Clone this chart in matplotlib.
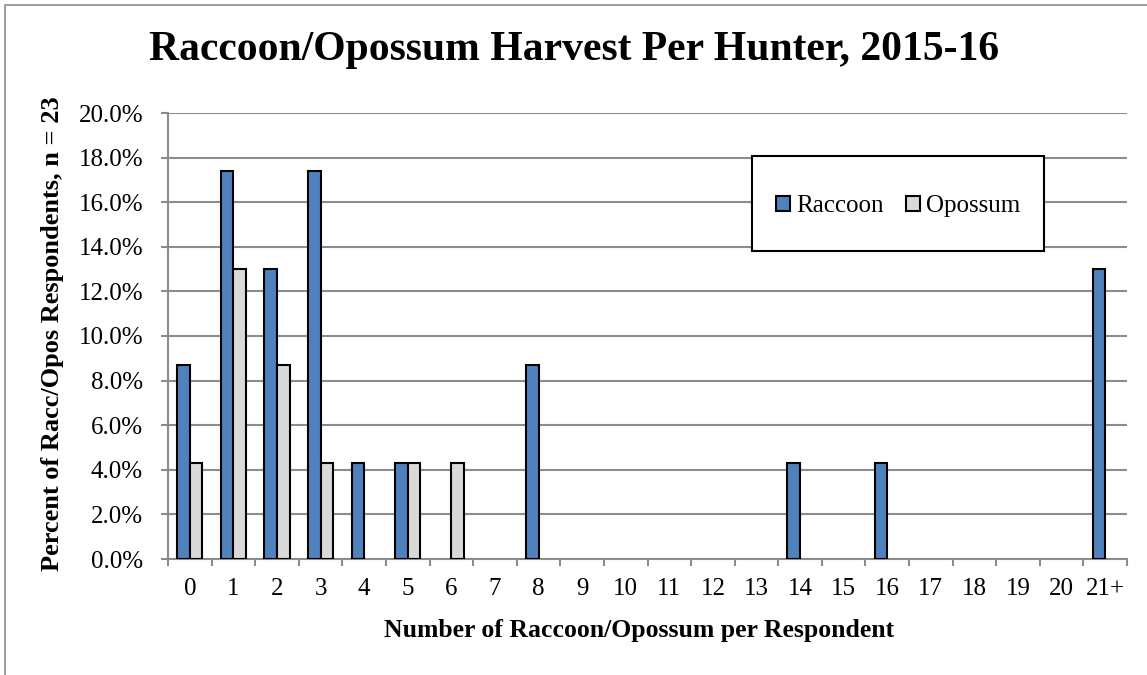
import numpy as np
import matplotlib
matplotlib.use("Agg")
import matplotlib.pyplot as plt
from matplotlib.patches import Rectangle

categories = ['0', '1', '2', '3', '4', '5', '6', '7', '8', '9', '10', '11',
              '12', '13', '14', '15', '16', '17', '18', '19', '20', '21+']
raccoon = [8.7, 17.4, 13.0, 17.4, 4.3, 4.3, 0, 0, 8.7, 0, 0, 0,
           0, 0, 4.3, 0, 4.3, 0, 0, 0, 0, 13.0]
opossum = [4.3, 13.0, 8.7, 4.3, 0, 4.3, 4.3, 0, 0, 0, 0, 0,
           0, 0, 0, 0, 0, 0, 0, 0, 0, 0]

W, H = 1147, 675
plt.rcParams['font.family'] = ['Liberation Serif', 'DejaVu Serif']

fig = plt.figure(figsize=(W / 100, H / 100), dpi=100)
fig.patch.set_facecolor('white')

# outer chart border (gray), cut off at right/bottom like the reference
fig.patches.append(Rectangle((5 / W, -0.1), 1.2, (1 - 5 / H) + 0.1, transform=fig.transFigure,
                             fill=False, edgecolor='#8c8c8c', linewidth=1.2))

left, right, top, bottom = 168, 1127, 113, 559
ax = fig.add_axes([left / W, (H - bottom) / H, (right - left) / W, (bottom - top) / H])

x = np.arange(len(categories))
r = np.array(raccoon)
o = np.array(opossum)
w = 0.29
# zero values are not drawn (no flat outlines on the axis)
ax.bar(x[r > 0] - w / 2, r[r > 0], w, color='#4F81BD', edgecolor='black', linewidth=1.5,
       label='Raccoon', zorder=3)
ax.bar(x[o > 0] + w / 2, o[o > 0], w, color='#D9D9D9', edgecolor='black', linewidth=1.5,
       label='Opossum', zorder=3)

ax.set_xlim(-0.5, len(categories) - 0.5)
ax.set_ylim(0, 20)
ax.set_yticks(np.arange(0, 20.1, 2))
ax.set_yticklabels(['%.1f%%' % v for v in np.arange(0, 20.1, 2)], fontsize=18)
ax.set_xticks(x)
ax.set_xticklabels(categories, fontsize=18)
ax.set_xticks(np.arange(-0.5, len(categories), 1), minor=True)
ax.tick_params(axis='x', which='major', length=0, pad=14)
ax.tick_params(axis='x', which='minor', length=5, width=1.5, color='#8c8c8c', direction='out')
ax.tick_params(axis='y', which='major', length=5, width=1.5, color='#8c8c8c', pad=13)

ax.grid(axis='y', color='#8c8c8c', linewidth=1.5, zorder=0)
ax.set_axisbelow(True)
for s in ['top', 'right']:
    ax.spines[s].set_visible(False)
for s in ['left', 'bottom']:
    ax.spines[s].set_color('#8c8c8c')
    ax.spines[s].set_linewidth(1.5)

# legend box
fig.patches.append(Rectangle((752 / W, 1 - 251 / H), (1044 - 752) / W, (251 - 156) / H,
                             transform=fig.transFigure, facecolor='white',
                             edgecolor='black', linewidth=1.5, zorder=5))
leg = fig.legend(loc='center', bbox_to_anchor=(898 / W, 1 - 206 / H),
                 ncol=2, fontsize=18, frameon=False,
                 handlelength=0.55, handleheight=0.55, handletextpad=0.25,
                 columnspacing=0.9)
leg.set_zorder(6)

fig.text(574 / W, 1 - 50 / H, 'Raccoon/Opossum Harvest Per Hunter, 2015-16',
         ha='center', va='center', fontsize=30, fontweight='bold')
fig.text(639 / W, 1 - 630 / H, 'Number of Raccoon/Opossum per Respondent',
         ha='center', va='center', fontsize=18.5, fontweight='bold')
fig.text(53 / W, 1 - 334 / H, 'Percent of Racc/Opos Respondents, n = 23',
         ha='center', va='center', fontsize=19, fontweight='bold', rotation=90)

fig.savefig('out.png', dpi=100)
